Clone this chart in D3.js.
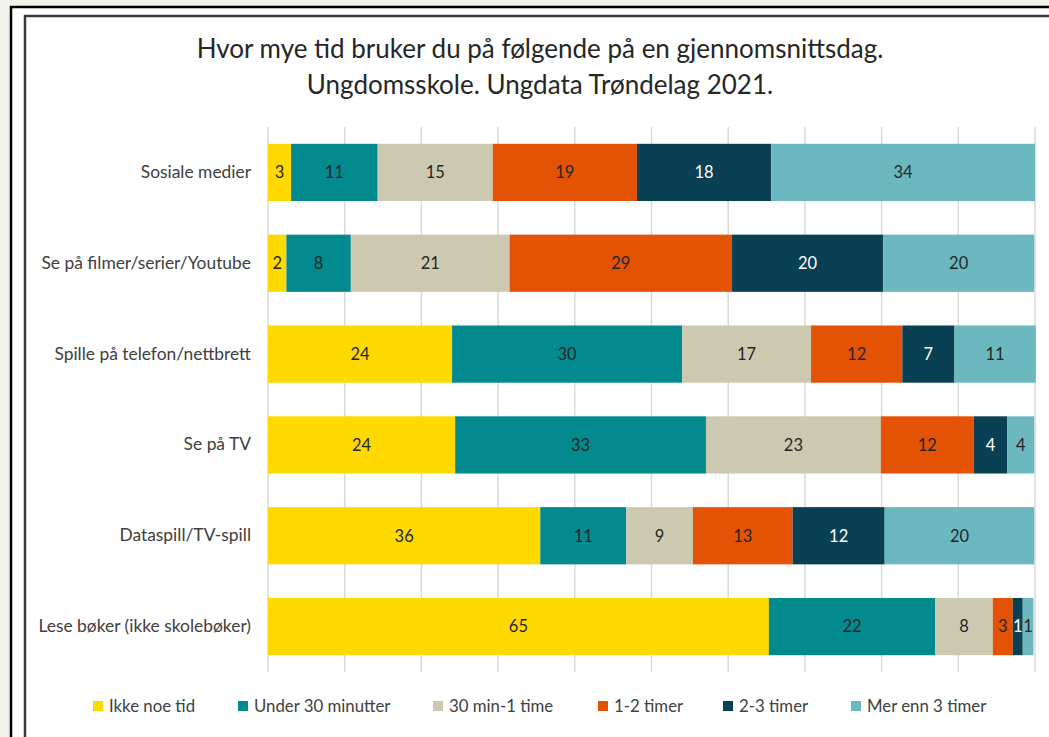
<!DOCTYPE html>
<html lang="no">
<head>
<meta charset="utf-8">
<title>Ungdata Trøndelag 2021</title>
<script src="https://cdn.jsdelivr.net/npm/d3@7"></script>
<style>
  body { margin: 0; background: #f3f2ed; }
  svg { display: block; }
  text { font-family: Lato, "Open Sans", sans-serif; fill: #262626; }
</style>
</head>
<body>
<script>
// categories top to bottom
var categories = [
  "Sosiale medier",
  "Se på filmer/serier/Youtube",
  "Spille på telefon/nettbrett",
  "Se på TV",
  "Dataspill/TV-spill",
  "Lese bøker (ikke skolebøker)"
];

var seriesNames = ["Ikke noe tid", "Under 30 minutter", "30 min-1 time", "1-2 timer", "2-3 timer", "Mer enn 3 timer"];
var seriesColors = ["#ffda00", "#028a8f", "#cdc9b0", "#e35205", "#0a4053", "#6bb9be"];

// percentages per series, same order as categories
var ikkeNoeTid   = [3.0, 2.4, 24.0, 24.4, 35.5, 65.3];
var under30      = [11.3, 8.4, 30.0, 32.7, 11.2, 21.7];
var min30til1    = [15.0, 20.7, 16.8, 22.8, 8.7, 7.5];
var timer1til2   = [18.8, 29.0, 11.9, 12.1, 13.0, 2.6];
var timer2til3   = [17.5, 19.7, 6.8, 4.4, 12.0, 1.3];
var merEnn3      = [34.4, 19.7, 10.6, 3.5, 19.5, 1.4];
var seriesValues = [ikkeNoeTid, under30, min30til1, timer1til2, timer2til3, merEnn3];

var xTicks = [0, 10, 20, 30, 40, 50, 60, 70, 80, 90, 100];

var w = 1049, h = 737;
// plot area (note: "top" is taken by window.top, so use other names)
var plotLeft = 268, plotRight = 1035, plotTop = 127, plotBottom = 672;

var svg = d3.select("body").append("svg")
    .attr("width", w)
    .attr("height", h);

// frames (outer black, inner grey) - run off the right/bottom edge like the screenshot
svg.append("rect")
    .attr("x", 11).attr("y", 7)
    .attr("width", w + 20).attr("height", h + 20)
    .attr("fill", "#ffffff")
    .attr("stroke", "#000000").attr("stroke-width", 2.5);
svg.append("rect")
    .attr("x", 25).attr("y", 16)
    .attr("width", w + 20).attr("height", h + 20)
    .attr("fill", "#ffffff")
    .attr("stroke", "#3a3a3a").attr("stroke-width", 2.5);

// title
svg.append("text")
    .attr("x", 540).attr("y", 58)
    .attr("text-anchor", "middle")
    .attr("font-size", "26px")
    .text("Hvor mye tid bruker du på følgende på en gjennomsnittsdag.");
svg.append("text")
    .attr("x", 540).attr("y", 94)
    .attr("text-anchor", "middle")
    .attr("font-size", "26px")
    .text("Ungdomsskole. Ungdata Trøndelag 2021.");

// scales
var xScale = d3.scaleLinear()
    .domain([0, 100])
    .range([plotLeft, plotRight]);

var yScale = d3.scaleBand()
    .domain(categories)
    .range([plotTop, plotBottom])
    .paddingInner(0.37)
    .paddingOuter(0.185);

// gridlines
svg.append("g")
    .selectAll("line")
    .data(xTicks)
    .enter()
    .append("line")
    .attr("x1", function(d) { return xScale(d); })
    .attr("x2", function(d) { return xScale(d); })
    .attr("y1", plotTop)
    .attr("y2", plotBottom)
    .attr("stroke", "#d9d9d9")
    .attr("stroke-width", 1.5);

// stack the data
var rows = categories.map(function(c, i) {
    var r = { cat: c };
    seriesNames.forEach(function(s, j) { r[s] = seriesValues[j][i]; });
    return r;
});
var stacked = d3.stack().keys(seriesNames)(rows);

var layers = svg.append("g")
    .selectAll("g")
    .data(stacked)
    .enter()
    .append("g")
    .attr("fill", function(d, i) { return seriesColors[i]; });

layers.selectAll("rect")
    .data(function(d) { return d; })
    .enter()
    .append("rect")
    .attr("x", function(d) { return xScale(d[0]); })
    .attr("y", function(d) { return yScale(d.data.cat); })
    .attr("width", function(d) { return xScale(d[1]) - xScale(d[0]); })
    .attr("height", yScale.bandwidth());

// value labels (white on the dark 2-3 timer segments)
layers.each(function(layer, i) {
    d3.select(this).selectAll("text")
        .data(layer)
        .enter()
        .append("text")
        .attr("x", function(d) { return (xScale(d[0]) + xScale(d[1])) / 2; })
        .attr("y", function(d) { return yScale(d.data.cat) + yScale.bandwidth() / 2; })
        .attr("dy", "0.35em")
        .attr("text-anchor", "middle")
        .attr("font-size", "16.5px")
        .style("fill", i === 4 ? "#ffffff" : "#262626")
        .text(function(d) { return Math.round(d.data[layer.key]); });
});

// category labels
var yAxis = d3.axisLeft(yScale).tickSize(0).tickPadding(17);
var yg = svg.append("g")
    .attr("transform", "translate(" + plotLeft + ",0)")
    .call(yAxis);
yg.select(".domain").remove();
yg.selectAll("text")
    .attr("font-size", "17.4px")
    .attr("font-family", "Lato, sans-serif")
    .style("fill", "#404040");

// legend
var legendX = [93, 238, 433, 598, 723, 851];
var legend = svg.append("g")
    .selectAll("g")
    .data(seriesNames)
    .enter()
    .append("g")
    .attr("transform", function(d, i) { return "translate(" + legendX[i] + ",706)"; });
legend.append("rect")
    .attr("x", 0).attr("y", -5)
    .attr("width", 10).attr("height", 10)
    .attr("fill", function(d, i) { return seriesColors[i]; });
legend.append("text")
    .attr("x", 16)
    .attr("dy", "0.35em")
    .attr("font-size", "16.8px")
    .style("fill", "#404040")
    .text(function(d) { return d; });
</script>
</body>
</html>
